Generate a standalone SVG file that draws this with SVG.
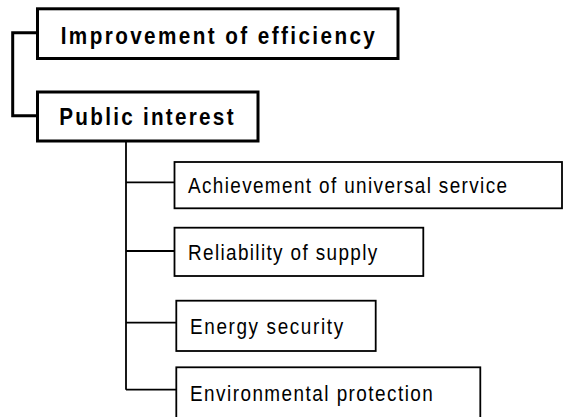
<svg xmlns="http://www.w3.org/2000/svg" width="563" height="417" viewBox="0 0 563 417">
<style>
.bg{fill:#fff}
.main{fill:#fff;stroke:#000;stroke-width:3}
.sub{fill:#fff;stroke:#000;stroke-width:1.8}
.thick{fill:none;stroke:#000;stroke-width:3}
.thin{fill:none;stroke:#000;stroke-width:1.8}
.tb{font-family:"Liberation Sans",Arial,sans-serif;font-weight:bold;font-size:23.5px;fill:#000}
.tr{font-family:"Liberation Sans",Arial,sans-serif;font-size:21.5px;fill:#000}
</style>
<rect class="bg" x="0" y="0" width="563" height="417"/>
<g id="connectors">
<polyline class="thick" points="37.5,32.7 12.7,32.7 12.7,115.8 37.5,115.8"/>
<line class="thin" x1="126" y1="141" x2="126" y2="389.7"/>
<line class="thin" x1="126" y1="182.3" x2="174.5" y2="182.3"/>
<line class="thin" x1="126" y1="251" x2="174.5" y2="251"/>
<line class="thin" x1="126" y1="322.7" x2="176.3" y2="322.7"/>
<line class="thin" x1="126" y1="389.7" x2="176.3" y2="389.7"/>
</g>
<g id="efficiency">
<rect class="main" x="37.5" y="8.8" width="360.5" height="49.7"/>
<text class="tb" transform="translate(60.7,43.5) scale(0.88,1)" textLength="357" lengthAdjust="spacing">Improvement of efficiency</text>
</g>
<g id="public">
<rect class="main" x="37.5" y="92" width="220.5" height="49"/>
<text class="tb" transform="translate(59.3,125) scale(0.88,1)" textLength="198" lengthAdjust="spacing">Public interest</text>
</g>
<g id="universal">
<rect class="sub" x="174.5" y="162" width="387.5" height="46.3"/>
<text class="tr" transform="translate(188,193) scale(0.88,1)" textLength="362.5" lengthAdjust="spacing">Achievement of universal service</text>
</g>
<g id="reliability">
<rect class="sub" x="174.5" y="227.7" width="248.8" height="48.3"/>
<text class="tr" transform="translate(188,259.5) scale(0.88,1)" textLength="215" lengthAdjust="spacing">Reliability of supply</text>
</g>
<g id="energy">
<rect class="sub" x="176.3" y="300.7" width="199.4" height="50.3"/>
<text class="tr" transform="translate(190,334) scale(0.88,1)" textLength="174" lengthAdjust="spacing">Energy security</text>
</g>
<g id="environment">
<rect class="sub" x="176.3" y="367.3" width="304" height="70"/>
<text class="tr" transform="translate(190,400.5) scale(0.88,1)" textLength="276" lengthAdjust="spacing">Environmental protection</text>
</g>
</svg>
